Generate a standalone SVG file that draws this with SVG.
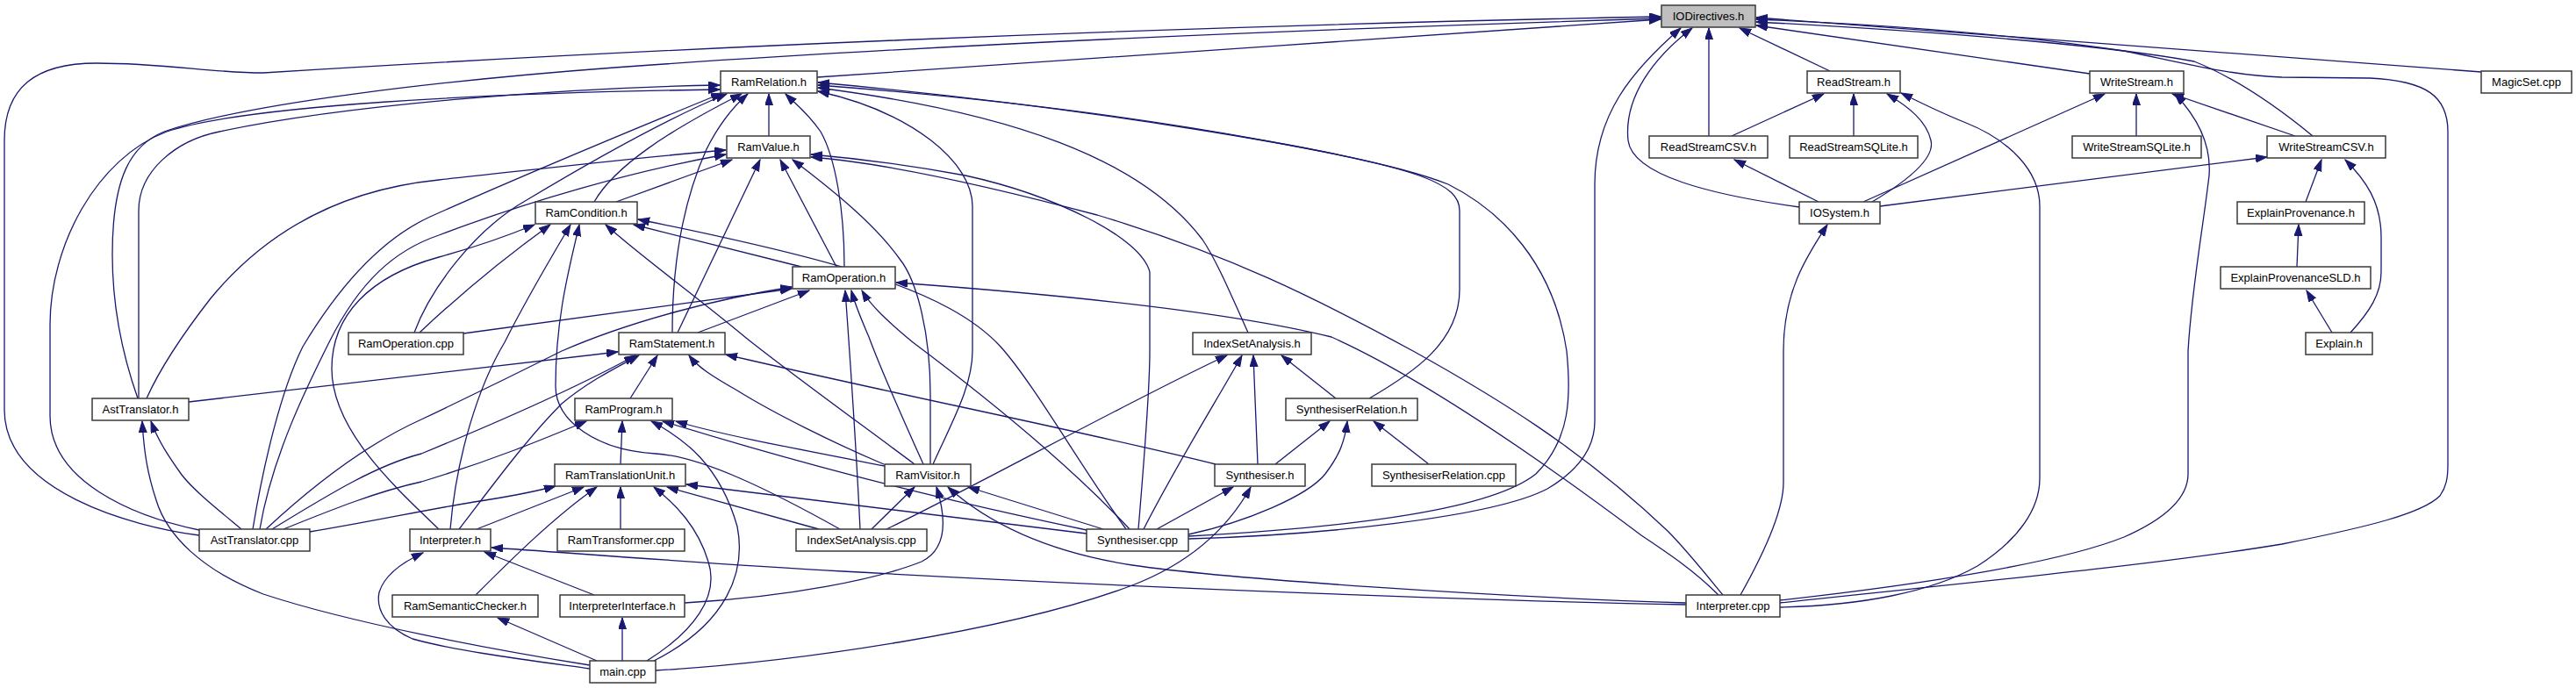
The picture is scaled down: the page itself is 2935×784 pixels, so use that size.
<svg xmlns="http://www.w3.org/2000/svg" width="2935" height="784" viewBox="0 0 2935 784">
<style>
.n rect{fill:#fff;stroke:#3a3a3a;stroke-width:1.5}
.n.root rect{fill:#bfbfbf}
.n text{font-family:"Liberation Sans",Arial,sans-serif;font-size:13px;fill:#000;text-anchor:middle}
.e path{fill:none;stroke:#191970;stroke-width:1.3;marker-end:url(#a)}
</style>
<defs>
<marker id="a" markerWidth="14" markerHeight="10" refX="13" refY="4.5" orient="auto" markerUnits="userSpaceOnUse">
<path d="M0,0 L13,4.5 L0,9 z" fill="#191970" stroke="#191970" stroke-width="1"/>
</marker>
</defs>
<rect width="2935" height="784" fill="#fff"/>
<g id="edges" class="e">
<path d="M931,88 C1200,70 1600,42 1892,22"/>
<path d="M227,610 C150,600 5,560 5,467 L5,160 C5,100 40,72 110,72 C190,72 240,83 300,83 C700,58 1300,30 1892,19"/>
<path d="M157,454 C145,420 128,360 128,290 C128,200 150,165 187,150 C280,118 500,92 700,77 C1100,48 1600,30 1892,21"/>
<path d="M2085,81 L1982,32"/>
<path d="M1947,155 L1947,32"/>
<path d="M2381,84 L2001,29"/>
<path d="M2827,82 L2001,20"/>
<path d="M2635,155 C2590,118 2545,88 2500,70 C2420,55 2250,38 2001,25"/>
<path d="M2050,236 C1950,222 1860,200 1855,160 C1850,110 1885,65 1928,32"/>
<path d="M1354,614 C1500,610 1700,590 1763,557 C1800,535 1817,510 1817,480 L1817,210 C1817,130 1860,80 1915,32"/>
<path d="M2028,687 C2200,668 2450,645 2600,620 C2700,600 2760,585 2780,565 C2787,555 2789,545 2789,530 L2789,150 C2789,110 2765,92 2700,89 L2600,88 C2540,86 2480,70 2420,58 C2300,40 2150,28 2001,22"/>
<path d="M2028,684 C2200,665 2350,640 2420,612 C2470,590 2493,565 2493,540 L2493,400 C2497,330 2510,260 2517,200 C2520,160 2500,130 2478,107"/>
<path d="M2028,692 C2120,690 2200,675 2253,645 C2300,615 2324,580 2324,545 L2324,235 C2324,195 2290,160 2240,140 C2210,128 2190,118 2166,106"/>
<path d="M227,604 C150,588 57,548 57,474 L57,370 C57,280 110,180 190,150 C280,120 550,106 820,102"/>
<path d="M158,454 L158,240 C158,195 200,160 250,150 C400,118 650,100 820,97"/>
<path d="M876,155 L876,107"/>
<path d="M677,230 C700,190 760,150 845,107"/>
<path d="M766,379 C766,300 778,230 805,170 C820,140 835,122 852,107"/>
<path d="M962,304 C962,240 952,180 935,150 C920,128 905,117 895,107"/>
<path d="M472,379 C490,330 540,262 600,228 C680,180 760,135 828,107"/>
<path d="M288,603 C300,530 320,445 345,395 C390,320 440,270 490,247 C600,198 740,140 823,106"/>
<path d="M1063,529 C1085,480 1108,440 1108,400 L1108,235 C1108,185 1040,128 932,104"/>
<path d="M1422,379 C1400,330 1385,295 1370,273 C1300,180 1150,128 932,100"/>
<path d="M1560,454 C1610,425 1663,390 1663,330 L1663,240 C1663,210 1620,192 1440,160 C1250,125 1050,106 932,97"/>
<path d="M1354,611 C1550,600 1700,580 1750,540 C1790,500 1790,450 1785,400 C1770,300 1710,240 1650,210 C1550,170 1200,118 932,94"/>
<path d="M702,230 L834,182"/>
<path d="M772,379 L866,182"/>
<path d="M953,304 L889,182"/>
<path d="M1060,529 L1060,450 C1060,380 1045,320 1025,295 C1000,260 960,225 903,182"/>
<path d="M167,454 C180,425 205,385 240,340 C310,255 400,215 500,205 C620,192 720,180 827,171"/>
<path d="M296,603 C310,520 350,440 375,390 C410,320 450,285 500,268 C600,230 720,195 827,176"/>
<path d="M1297,603 C1303,530 1310,450 1310,400 L1310,310 C1300,270 1200,222 1100,200 C1030,187 970,180 924,176"/>
<path d="M1963,678 C1940,650 1920,625 1900,605 C1800,510 1700,450 1610,400 C1500,340 1400,290 1250,245 C1100,205 1000,185 924,179"/>
<path d="M913,304 L722,256"/>
<path d="M1042,529 C990,490 900,425 850,385 C790,335 730,292 690,256"/>
<path d="M1283,603 C1230,530 1180,440 1140,395 C1080,330 950,295 727,250"/>
<path d="M500,603 C450,555 378,490 378,420 C378,360 420,315 500,293 C540,282 580,268 609,256"/>
<path d="M513,603 C520,520 545,440 575,390 C600,340 630,290 650,256"/>
<path d="M957,603 C880,560 800,520 747,517 C680,513 633,480 633,440 C633,360 650,300 660,256"/>
<path d="M478,379 C530,330 580,290 627,256"/>
<path d="M528,380 L902,329"/>
<path d="M795,379 L922,331"/>
<path d="M303,603 C360,550 420,505 480,478 C560,440 600,420 640,400 C720,365 820,340 902,327"/>
<path d="M1052,529 C1030,480 1005,425 990,384 C982,365 975,350 970,331"/>
<path d="M980,603 C975,500 968,400 963,331"/>
<path d="M1287,603 C1200,510 1080,420 1040,390 C1010,365 992,348 982,331"/>
<path d="M1958,678 C1930,650 1900,630 1870,610 C1750,520 1620,430 1517,384 C1400,355 1200,335 1021,322"/>
<path d="M215,458 L704,401"/>
<path d="M310,603 C380,560 430,530 480,517 C570,480 660,440 724,405"/>
<path d="M523,603 C560,555 600,500 640,460 C670,435 700,420 728,405"/>
<path d="M718,454 L749,405"/>
<path d="M1007,529 C950,505 880,470 840,445 C810,428 795,418 785,405"/>
<path d="M1385,529 C1250,495 1000,445 827,404"/>
<path d="M275,603 C245,578 220,558 207,541 C192,520 180,502 172,480"/>
<path d="M672,758 C560,740 400,710 300,677 C230,650 190,610 178,570 C168,540 164,515 162,480"/>
<path d="M323,603 C380,580 430,560 480,549 C560,525 620,500 668,480"/>
<path d="M707,529 L709,480"/>
<path d="M745,753 C830,710 850,650 840,600 C820,530 780,500 742,480"/>
<path d="M1238,604 C1100,575 950,540 755,480"/>
<path d="M1008,531 C900,510 820,495 770,480"/>
<path d="M1453,529 L1515,480"/>
<path d="M1628,529 L1565,480"/>
<path d="M1354,609 C1420,595 1490,565 1510,540 C1525,520 1532,505 1535,480"/>
<path d="M353,606 C420,595 480,582 540,572 C580,566 610,560 633,554"/>
<path d="M543,603 L665,555"/>
<path d="M542,678 C580,640 630,590 680,555"/>
<path d="M707,603 L707,555"/>
<path d="M737,753 C790,720 820,680 807,640 C795,600 770,575 745,555"/>
<path d="M933,603 L760,555"/>
<path d="M1238,608 L782,552"/>
<path d="M993,603 L1042,555"/>
<path d="M1257,603 L1103,555"/>
<path d="M1921,687 C1700,680 1400,660 1290,644 C1200,630 1130,600 1080,555"/>
<path d="M780,687 C900,680 1000,660 1050,640 C1080,625 1078,590 1067,555"/>
<path d="M1318,603 L1405,555"/>
<path d="M747,764 C900,755 1150,720 1290,667 C1360,640 1400,600 1425,555"/>
<path d="M1522,454 L1460,405"/>
<path d="M1433,529 L1428,405"/>
<path d="M1303,603 C1340,530 1390,450 1415,405"/>
<path d="M1010,603 C1100,560 1300,450 1398,405"/>
<path d="M1921,689 C1700,685 1300,670 960,651 C800,642 650,630 560,624"/>
<path d="M677,678 L552,629"/>
<path d="M672,762 C600,752 520,742 470,728 C440,715 428,695 432,675 C438,655 460,640 482,630"/>
<path d="M709,753 L709,704"/>
<path d="M680,753 L567,704"/>
<path d="M1973,155 L2078,107"/>
<path d="M2112,155 L2112,107"/>
<path d="M2133,230 C2175,205 2205,180 2200,160 C2195,138 2175,122 2150,107"/>
<path d="M2072,230 L1976,182"/>
<path d="M2123,230 L2398,107"/>
<path d="M2142,235 L2583,179"/>
<path d="M2434,155 L2434,107"/>
<path d="M2615,155 L2475,107"/>
<path d="M1983,678 C2010,630 2032,580 2032,550 L2032,400 C2032,330 2060,290 2082,256"/>
<path d="M2627,230 L2645,182"/>
<path d="M2678,379 C2700,355 2713,335 2713,310 L2713,270 C2713,230 2695,205 2672,182"/>
<path d="M2617,304 L2619,256"/>
<path d="M2657,379 L2628,331"/>
</g>
<g id="n-IODirectives" class="n root"><rect x="1893" y="6" width="107" height="25"/><text x="1946.5" y="23">IODirectives.h</text></g>
<g id="n-RamRelation" class="n"><rect x="821" y="81" width="110" height="25"/><text x="876" y="98">RamRelation.h</text></g>
<g id="n-ReadStream" class="n"><rect x="2059" y="81" width="106" height="25"/><text x="2112" y="98">ReadStream.h</text></g>
<g id="n-WriteStream" class="n"><rect x="2381" y="81" width="107" height="25"/><text x="2434.5" y="98">WriteStream.h</text></g>
<g id="n-MagicSet" class="n"><rect x="2827" y="81" width="103" height="25"/><text x="2878.5" y="98">MagicSet.cpp</text></g>
<g id="n-RamValue" class="n"><rect x="828" y="155" width="95" height="25"/><text x="875.5" y="172">RamValue.h</text></g>
<g id="n-ReadStreamCSV" class="n"><rect x="1879" y="155" width="135" height="25"/><text x="1946.5" y="172">ReadStreamCSV.h</text></g>
<g id="n-ReadStreamSQLite" class="n"><rect x="2039" y="155" width="146" height="25"/><text x="2112" y="172">ReadStreamSQLite.h</text></g>
<g id="n-WriteStreamSQLite" class="n"><rect x="2361" y="155" width="147" height="25"/><text x="2434.5" y="172">WriteStreamSQLite.h</text></g>
<g id="n-WriteStreamCSV" class="n"><rect x="2583" y="155" width="135" height="25"/><text x="2650.5" y="172">WriteStreamCSV.h</text></g>
<g id="n-RamCondition" class="n"><rect x="610" y="230" width="116" height="25"/><text x="668" y="247">RamCondition.h</text></g>
<g id="n-IOSystem" class="n"><rect x="2050" y="230" width="92" height="25"/><text x="2096" y="247">IOSystem.h</text></g>
<g id="n-ExplainProvenance" class="n"><rect x="2549" y="230" width="145" height="25"/><text x="2621.5" y="247">ExplainProvenance.h</text></g>
<g id="n-RamOperation" class="n"><rect x="903" y="304" width="117" height="25"/><text x="961.5" y="321">RamOperation.h</text></g>
<g id="n-ExplainProvenanceSLD" class="n"><rect x="2530" y="304" width="171" height="25"/><text x="2615.5" y="321">ExplainProvenanceSLD.h</text></g>
<g id="n-RamOperationCpp" class="n"><rect x="397" y="379" width="131" height="25"/><text x="462.5" y="396">RamOperation.cpp</text></g>
<g id="n-RamStatement" class="n"><rect x="705" y="379" width="121" height="25"/><text x="765.5" y="396">RamStatement.h</text></g>
<g id="n-IndexSetAnalysis" class="n"><rect x="1359" y="379" width="135" height="25"/><text x="1426.5" y="396">IndexSetAnalysis.h</text></g>
<g id="n-Explain" class="n"><rect x="2627" y="379" width="76" height="25"/><text x="2665" y="396">Explain.h</text></g>
<g id="n-AstTranslator" class="n"><rect x="105" y="454" width="110" height="25"/><text x="160" y="471">AstTranslator.h</text></g>
<g id="n-RamProgram" class="n"><rect x="655" y="454" width="111" height="25"/><text x="710.5" y="471">RamProgram.h</text></g>
<g id="n-SynthesiserRelation" class="n"><rect x="1465" y="454" width="150" height="25"/><text x="1540" y="471">SynthesiserRelation.h</text></g>
<g id="n-RamTranslationUnit" class="n"><rect x="632" y="529" width="149" height="25"/><text x="706.5" y="546">RamTranslationUnit.h</text></g>
<g id="n-RamVisitor" class="n"><rect x="1008" y="529" width="98" height="25"/><text x="1057" y="546">RamVisitor.h</text></g>
<g id="n-Synthesiser" class="n"><rect x="1384" y="529" width="103" height="25"/><text x="1435.5" y="546">Synthesiser.h</text></g>
<g id="n-SynthesiserRelationCpp" class="n"><rect x="1563" y="529" width="164" height="25"/><text x="1645" y="546">SynthesiserRelation.cpp</text></g>
<g id="n-AstTranslatorCpp" class="n"><rect x="227" y="603" width="126" height="25"/><text x="290" y="620">AstTranslator.cpp</text></g>
<g id="n-Interpreter" class="n"><rect x="467" y="603" width="92" height="25"/><text x="513" y="620">Interpreter.h</text></g>
<g id="n-RamTransformer" class="n"><rect x="635" y="603" width="145" height="25"/><text x="707.5" y="620">RamTransformer.cpp</text></g>
<g id="n-IndexSetAnalysisCpp" class="n"><rect x="907" y="603" width="149" height="25"/><text x="981.5" y="620">IndexSetAnalysis.cpp</text></g>
<g id="n-SynthesiserCpp" class="n"><rect x="1238" y="603" width="116" height="25"/><text x="1296" y="620">Synthesiser.cpp</text></g>
<g id="n-RamSemanticChecker" class="n"><rect x="447" y="678" width="166" height="25"/><text x="530" y="695">RamSemanticChecker.h</text></g>
<g id="n-InterpreterInterface" class="n"><rect x="638" y="678" width="142" height="25"/><text x="709" y="695">InterpreterInterface.h</text></g>
<g id="n-InterpreterCpp" class="n"><rect x="1921" y="678" width="107" height="25"/><text x="1974.5" y="695">Interpreter.cpp</text></g>
<g id="n-main" class="n"><rect x="672" y="753" width="75" height="25"/><text x="709.5" y="770">main.cpp</text></g>
</svg>
